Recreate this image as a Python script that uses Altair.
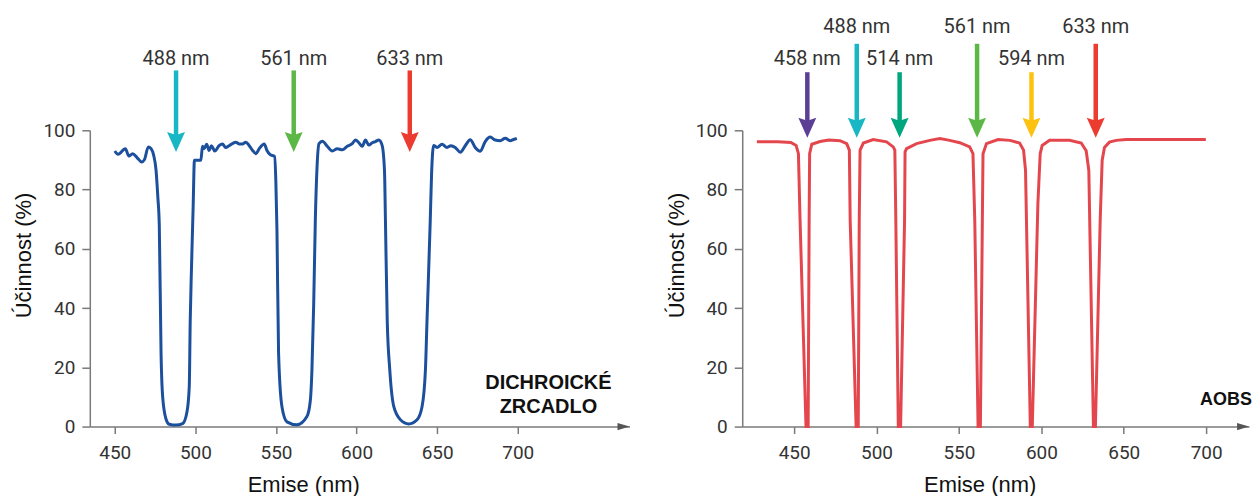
import altair as alt
import pandas as pd

# ---------------- data ----------------
x_ticks = [450, 500, 550, 600, 650, 700]
y_ticks = [0, 20, 40, 60, 80, 100]

# left panel: dichroic mirror efficiency (blue curve)
blue_nm = [
    450.0, 452.0, 456.6, 458.7, 461.1, 463.8, 466.7, 468.4, 470.8, 472.5,
    474.1, 475.6, 476.7, 477.6, 478.7, 479.7, 481.8, 483.8, 488.0, 492.1,
    494.8, 496.2, 496.8, 497.6, 498.6, 499.4, 503.4, 504.4, 505.4, 507.0,
    508.5, 510.0, 512.0, 514.7, 516.8, 518.8, 520.9, 525.1, 527.2, 529.2,
    531.3, 533.4, 535.5, 537.6, 539.6, 542.7, 544.4, 546.4, 549.1, 549.9,
    550.6, 551.6, 553.7, 556.8, 563.0, 569.2, 571.3, 572.3, 573.4, 574.4,
    575.5, 576.7, 578.8, 581.8, 584.9, 588.0, 591.1, 594.2, 597.3, 599.3,
    601.4, 603.5, 605.5, 607.6, 609.7, 611.7, 613.8, 615.8, 617.3, 617.9,
    619.0, 620.6, 623.1, 627.2, 632.4, 637.5, 640.6, 642.7, 643.7, 645.7,
    646.5, 647.8, 649.9, 653.0, 656.1, 658.5, 661.2, 664.3, 667.4, 670.5,
    673.6, 676.7, 679.8, 682.9, 686.0, 689.1, 692.2, 695.3, 697.4, 699.4,
]
blue_eff = [
    93.0, 91.9, 93.8, 91.3, 92.1, 90.8, 89.3, 90.1, 94.4, 93.8,
    91.6, 86.5, 77.5, 68.0, 24.8, 10.0, 2.5, 0.8, 0.5, 1.0,
    5.0, 13.5, 36.0, 54.0, 74.0, 89.9, 89.9, 94.6, 93.8, 95.3,
    93.2, 94.8, 93.0, 94.8, 95.4, 94.2, 94.8, 96.0, 95.4, 95.4,
    96.0, 94.8, 93.2, 92.1, 93.8, 95.4, 93.2, 91.8, 91.2, 83.0,
    66.3, 24.8, 6.7, 1.6, 0.6, 3.4, 8.8, 19.1, 41.5, 69.6,
    88.0, 95.5, 96.3, 94.6, 93.0, 93.8, 93.4, 94.6, 95.5, 96.7,
    95.8, 94.6, 96.7, 95.0, 95.8, 96.2, 96.7, 95.0, 86.5, 69.6,
    36.0, 19.1, 6.7, 2.3, 0.9, 2.3, 6.7, 19.1, 36.0, 69.6,
    85.0, 94.9, 94.2, 95.3, 94.2, 94.8, 94.2, 92.6, 94.8, 96.8,
    94.2, 92.9, 96.2, 97.7, 96.7, 96.5, 97.3, 96.5, 96.9, 97.3,
]

# right panel: AOBS efficiency (red curve)
red_nm = [
    427.4, 440.0, 448.0, 451.2, 452.6, 453.6, 457.2, 458.5, 459.1, 459.4,
    460.7, 465.7, 471.0, 477.8, 481.9, 483.5, 484.0, 487.6, 488.9, 489.5,
    490.0, 492.0, 498.0, 506.1, 510.1, 511.1, 511.7, 513.2, 514.6, 517.0,
    517.3, 518.2, 524.3, 532.3, 538.4, 544.4, 550.5, 556.5, 558.5, 559.6,
    561.6, 563.0, 564.2, 564.6, 566.7, 573.7, 581.0, 586.8, 589.2, 590.4,
    593.3, 594.5, 597.9, 599.3, 600.5, 605.0, 617.1, 624.2, 627.2, 628.8,
    631.6, 632.8, 635.7, 636.9, 638.3, 641.3, 645.4, 651.4, 699.8,
]
red_eff = [
    96.1, 96.1, 95.9, 94.9, 92.1, 69.6, 0.0, 0.0, 69.6, 92.1,
    95.3, 96.2, 96.7, 96.5, 95.5, 93.3, 69.6, 0.0, 0.0, 69.6,
    93.3, 95.7, 96.9, 96.1, 94.4, 93.3, 69.6, 0.0, 0.0, 69.6,
    92.7, 93.8, 95.5, 96.6, 97.2, 96.6, 95.8, 94.4, 92.1, 69.6,
    0.0, 0.0, 69.6, 92.1, 95.5, 96.9, 96.6, 95.7, 93.3, 86.5,
    0.0, 0.0, 75.3, 92.1, 94.9, 96.6, 96.6, 95.7, 93.1, 86.5,
    0.0, 0.0, 69.6, 89.9, 94.2, 96.0, 96.6, 96.9, 96.9,
]

# laser lines (arrows)
left_lasers = [488, 561, 633]
left_labels = ["488 nm", "561 nm", "633 nm"]
left_colors = ["#17b7c3", "#5cb846", "#ec3b2f"]

right_lasers = [458, 488, 514, 561, 594, 633]
right_labels = ["458 nm", "488 nm", "514 nm", "561 nm", "594 nm", "633 nm"]
right_colors = ["#5b3f95", "#17b7c3", "#00a67e", "#5cb846", "#fdc20f", "#ec3b2f"]
right_high = [False, True, False, True, False, True]

# ---------------- styling ----------------
NARROW = "Roboto"
SANS = "Liberation Sans, Arial, Helvetica"
AX = "#7a7a7a"
HEAD = "M-0.9,-1L0,-0.7L0.9,-1L0,1Z"
AXHEAD = "M-1,-0.6L1,0L-1,0.6Z"


def panel(nm, eff, color, interp, arrows, x_domain, width, notes, note_size, title_x):
    xs = alt.Scale(domain=x_domain, nice=False, zero=False)
    ys = alt.Scale(domain=[0, 100], nice=False, zero=False)
    x_axis = alt.Axis(values=x_ticks, title="Emise (nm)", grid=False,
                      domainColor=AX, domainWidth=1.5, tickColor=AX, tickWidth=1.5,
                      tickSize=7, labelFont=NARROW, labelFontSize=19,
                      labelColor="#333333", labelPadding=10, labelFlush=False,
                      titleFont=SANS, titleFontSize=22, titleFontWeight="normal",
                      titleColor="#111111", titleX=title_x, titleY=65,
                      titleBaseline="alphabetic", titleAlign="center")
    y_axis = alt.Axis(values=y_ticks, title="Účinnost (%)", grid=False,
                      domainColor=AX, domainWidth=1.5, tickColor=AX, tickWidth=1.5,
                      tickSize=8, labelFont=NARROW, labelFontSize=19,
                      labelColor="#333333", labelPadding=7,
                      titleFont=SANS, titleFontSize=22, titleFontWeight="normal",
                      titleColor="#111111", titleX=-59, titleY=125,
                      titleBaseline="alphabetic", titleAlign="center", titleAngle=270)

    def X(field):
        return alt.X(field, type="quantitative", scale=xs, axis=x_axis)

    def Y(field):
        return alt.Y(field, type="quantitative", scale=ys, axis=y_axis)

    curve = alt.Chart(pd.DataFrame({"nm": nm, "v": eff})).mark_line(
        color=color, strokeWidth=3, interpolate=interp
    ).encode(x=X("nm"), y=Y("v"))

    adf = pd.DataFrame(arrows)
    shaft = alt.Chart(adf).mark_rule(strokeWidth=4.5, y2Offset=-12).encode(
        x=X("nm"), y=Y("top"), y2="tip:Q",
        color=alt.Color("col:N", scale=None),
    )
    head = alt.Chart(adf).mark_point(shape=HEAD, size=400, filled=True, opacity=1,
                                     strokeWidth=0, yOffset=-10).encode(
        x=X("nm"), y=Y("tip"),
        fill=alt.Fill("col:N", scale=None),
    )
    label = alt.Chart(adf).mark_text(font=NARROW, fontSize=20, color="#333333",
                                     align="center", baseline="middle").encode(
        x=X("nm"), y=Y("lab"), text="label:N",
    )
    axhead = alt.Chart(pd.DataFrame({"nm": [x_domain[1]], "v": [0]})).mark_point(
        shape=AXHEAD, size=144, filled=True, opacity=1, color="#555555",
        strokeWidth=0, xOffset=-6
    ).encode(x=X("nm"), y=Y("v"))
    ndf = pd.DataFrame(notes)
    note = alt.Chart(ndf).mark_text(font=SANS, fontWeight="bold", color="#111111",
                                    fontSize=note_size, align="center",
                                    baseline="middle").encode(
        x=X("nm"), y=Y("v"), text="t:N",
    )
    return alt.layer(curve, shaft, head, label, axhead, note).properties(
        width=width, height=297)


left = panel(
    blue_nm, blue_eff, "#1c4f9c", "monotone",
    {"nm": left_lasers, "label": left_labels, "col": left_colors,
     "top": [120.2] * 3, "tip": [92.7] * 3, "lab": [124.2] * 3},
    [434.5, 769.3], 541,
    {"nm": [719.0, 719.0], "v": [14.7, 6.6], "t": ["DICHROICKÉ", "ZRCADLO"]},
    20, 214,
)

right = panel(
    red_nm, red_eff, "#e3474d", "linear",
    {"nm": right_lasers, "label": right_labels, "col": right_colors,
     "top": [129.2 if h else 119.6 for h in right_high],
     "tip": [97.5] * 6,
     "lab": [134.8 if h else 124.2 for h in right_high]},
    [418.5, 726.0], 508,
    {"nm": [712.0], "v": [9.0], "t": ["AOBS"]},
    18, 238,
)

chart = alt.hconcat(left, right, spacing=36).properties(
    padding={"left": 5, "top": 8, "right": 0, "bottom": 0},
    background="white",
).configure_view(stroke=None)

chart.save("out.html", embed_options={"renderer": "svg", "actions": False})
